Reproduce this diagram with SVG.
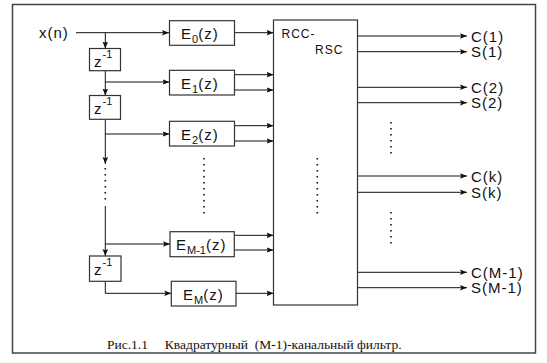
<svg xmlns="http://www.w3.org/2000/svg" width="547" height="363" viewBox="0 0 547 363">
<style>
.box{fill:#fff;stroke:#333;stroke-width:1.2}
.ln{fill:none;stroke:#111;stroke-width:1}
.ar{fill:none;stroke:#111;stroke-width:1;marker-end:url(#ah)}
.dot{fill:none;stroke:#111;stroke-width:1.6;stroke-dasharray:1.5 4.5}
.t{font-family:"Liberation Sans",Arial,sans-serif;font-size:15px;fill:#111;letter-spacing:1px}
.s{font-size:11px;letter-spacing:0}
.r{font-family:"Liberation Sans",Arial,sans-serif;font-size:12px;fill:#111;letter-spacing:1px}
.cap{font-family:"Liberation Serif","Times New Roman",serif;font-size:13.5px;fill:#111;white-space:pre}
</style>
<defs>
<marker id="ah" viewBox="0 0 8 8" refX="8" refY="4" markerWidth="7" markerHeight="7" markerUnits="userSpaceOnUse" orient="auto">
<path d="M0,0.8 L8,4 L0,7.2 L1.5,4 Z" fill="#111"/>
</marker>
</defs>
<rect x="12.5" y="4.5" width="523" height="348.5" fill="none" stroke="#444" stroke-width="1.5"/>

<g id="connectors">
<path class="ar" d="M76,32.7 H169"/>
<path class="ar" d="M105.3,32.7 V48.5"/>
<path class="ln" d="M105.3,70.7 V82"/>
<path class="ar" d="M105.3,82 H169.5"/>
<path class="ar" d="M105.3,82 V95.5"/>
<path class="ln" d="M105.3,119.3 V134"/>
<path class="ar" d="M105.3,134 H169.5"/>
<path class="ar" d="M105.3,134 V164"/>
<path class="dot" d="M105.3,168 V203"/>
<path class="ar" d="M105.3,206 V256"/>
<path class="ar" d="M105.3,244 H170"/>
<path class="ln" d="M105.3,281.3 V293.3"/>
<path class="ar" d="M105.3,293.3 H171.3"/>
<path class="dot" d="M204,158 V218"/>
<path class="ar" d="M234.5,32.7 H273.5"/>
<path class="ar" d="M234.5,74.7 H273.5"/>
<path class="ar" d="M234.5,90 H273.5"/>
<path class="ar" d="M234.5,125.7 H273.5"/>
<path class="ar" d="M234.5,141 H273.5"/>
<path class="ar" d="M234.5,235.3 H273.5"/>
<path class="ar" d="M234.5,250 H273.5"/>
<path class="ar" d="M236,293.3 H273.5"/>
<path class="ar" d="M357.5,36 H467"/>
<path class="ar" d="M357.5,51.7 H467"/>
<path class="ar" d="M357.5,87.3 H467"/>
<path class="ar" d="M357.5,102.7 H467"/>
<path class="ar" d="M357.5,176 H467"/>
<path class="ar" d="M357.5,192.3 H467"/>
<path class="ar" d="M357.5,272.3 H467"/>
<path class="ar" d="M357.5,287.7 H467"/>
<path class="dot" d="M391,122 V156"/>
<path class="dot" d="M391,212 V246"/>
</g>

<text class="t" x="39" y="38">x(n)</text>

<g id="z1"><rect class="box" x="89.5" y="48.5" width="31" height="22.2"/><text class="t" x="94" y="66.5">z<tspan class="s" dy="-9">-1</tspan></text></g>
<g id="z2"><rect class="box" x="89.5" y="95.5" width="31" height="23.8"/><text class="t" x="94" y="114">z<tspan class="s" dy="-9">-1</tspan></text></g>
<g id="z3"><rect class="box" x="89.5" y="256" width="31.5" height="25.3"/><text class="t" x="94" y="275">z<tspan class="s" dy="-9">-1</tspan></text></g>

<g id="E0"><rect class="box" x="169.5" y="20.7" width="65" height="24.6"/><text class="t" x="181" y="39">E<tspan class="s" dy="4">0</tspan><tspan dy="-4">(z)</tspan></text></g>
<g id="E1"><rect class="box" x="169.5" y="70.3" width="65" height="24.7"/><text class="t" x="181" y="88.5">E<tspan class="s" dy="4">1</tspan><tspan dy="-4">(z)</tspan></text></g>
<g id="E2"><rect class="box" x="169.5" y="121.3" width="65" height="24.7"/><text class="t" x="181" y="139.5">E<tspan class="s" dy="4">2</tspan><tspan dy="-4">(z)</tspan></text></g>
<g id="EM1"><rect class="box" x="170" y="231.7" width="64.3" height="25"/><text class="t" x="176" y="250">E<tspan class="s" dy="4">M-1</tspan><tspan dy="-4">(z)</tspan></text></g>
<g id="EM"><rect class="box" x="171.3" y="281.3" width="64.7" height="24.7"/><text class="t" x="183" y="300">E<tspan class="s" dy="4">M</tspan><tspan dy="-4">(z)</tspan></text></g>

<g id="rcc"><rect class="box" x="273.5" y="20" width="84" height="285"/><text class="r" x="281.5" y="37.5">RCC-</text><text class="r" x="315" y="54">RSC</text><path class="dot" d="M317.3,158 V216"/></g>

<g id="outs">
<text class="t" x="471" y="41.5">C(1)</text>
<text class="t" x="471" y="57.2">S(1)</text>
<text class="t" x="471" y="92.8">C(2)</text>
<text class="t" x="471" y="108.2">S(2)</text>
<text class="t" x="471" y="181.5">C(k)</text>
<text class="t" x="471" y="197.8">S(k)</text>
<text class="t" x="471" y="277.8">C(M-1)</text>
<text class="t" x="471" y="293.2">S(M-1)</text>
</g>

<text class="cap" x="107" y="349">Рис.1.1     Квадратурный  (М-1)-канальный фильтр.</text>
</svg>
